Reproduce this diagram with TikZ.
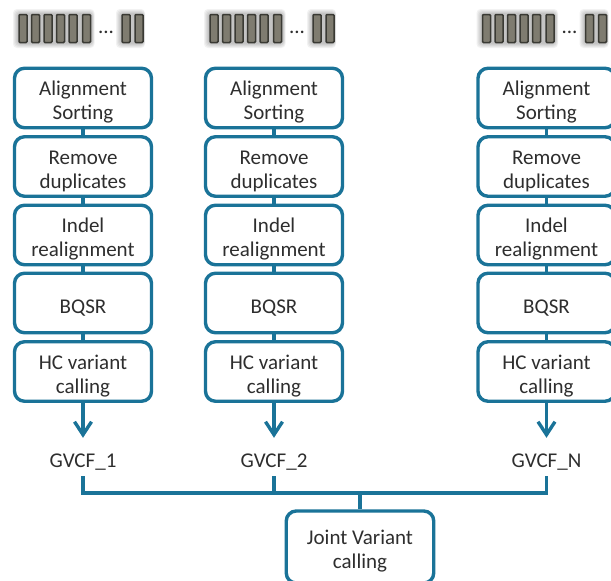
\documentclass[tikz,border=0pt]{standalone}
\usepackage{fontspec}
\setmainfont{Carlito}
\usetikzlibrary{arrows.meta}
\definecolor{boxblue}{HTML}{1A7398}
\definecolor{txt}{HTML}{2E2E2E}
\definecolor{chipfill}{HTML}{7F7C70}
\definecolor{chipline}{HTML}{3A3A34}
\newcommand{\topgap}{\rule{0pt}{23pt}}
\tikzset{
  stepbox/.style={draw=boxblue,line width=3.4pt,rounded corners=10pt,fill=white,minimum width=137pt,minimum height=59.5pt,inner sep=0pt,align=center,font=\fontsize{21pt}{24pt}\selectfont,text=txt},
  link/.style={draw=boxblue,line width=3.4pt},
  arrowlink/.style={link,shorten >=10pt,-{Straight Barb[length=13pt,width=17pt,line width=3.4pt]}},
  label/.style={font=\fontsize{21pt}{24pt}\selectfont,text=txt,inner sep=0pt,minimum height=28pt},
  chip/.style={draw=chipline,fill=chipfill,line width=1.5pt,rounded corners=1pt,minimum width=8pt,minimum height=28pt,inner sep=0pt},
  halo/.style={fill=black,fill opacity=0.05,rounded corners=4pt}
}
\newcommand{\chipstrip}[1]{%
  \begin{scope}[shift={(#1,0)}]
    \foreach \g in {5,4,3,2,1}{\path[halo] (18-\g,-14+\g) rectangle (92+\g*0.5,-43-\g);}
    \foreach \g in {5,4,3,2,1}{\path[halo] (121-\g,-14+\g) rectangle (144+\g*0.2,-43-\g);}
    \foreach \cx in {23,35.5,48,60.5,73,86.5,126,139}{\node[chip] at (\cx,-28.5) {};}
    \node[font=\fontsize{21pt}{24pt}\selectfont,text=txt,inner sep=0pt] at (106,-32) {...};
  \end{scope}}
\begin{document}
\begin{tikzpicture}[x=1pt,y=1pt]
\useasboundingbox (0,0) rectangle (611,-581);
\clip (0,0) rectangle (611,-581);
\chipstrip{0}
\chipstrip{191}
\chipstrip{463.5}
\foreach \n/\cx/\lab in {a/83/GVCF\_1,b/274/GVCF\_2,c/546.5/GVCF\_N}{
  \node[stepbox] (\n1) at (\cx,-98) {\topgap Alignment\\Sorting};
  \node[stepbox] (\n2) at (\cx,-166.5) {\topgap Remove\\duplicates};
  \node[stepbox] (\n3) at (\cx,-235) {\topgap Indel\\realignment};
  \node[stepbox] (\n4) at (\cx,-303) {\topgap BQSR};
  \node[stepbox] (\n5) at (\cx,-371.5) {\topgap HC variant\\calling};
  \node[label] (\n6) at (\cx,-462) {\lab};
  \draw[link] (\n1) -- (\n2);
  \draw[link] (\n2) -- (\n3);
  \draw[link] (\n3) -- (\n4);
  \draw[link] (\n4) -- (\n5);
  \draw[arrowlink] (\n5) -- (\n6);
}
\node[stepbox,minimum width=147.5pt,minimum height=72pt] (joint) at (360,-547) {\topgap Joint Variant\\calling};
\coordinate (busj) at (360,-493);
\draw[link] (a6.south) |- (busj) -| (c6.south);
\draw[link] (b6.south) -- (b6.south |- busj);
\draw[link] (busj) -- (joint);
\end{tikzpicture}
\end{document}
